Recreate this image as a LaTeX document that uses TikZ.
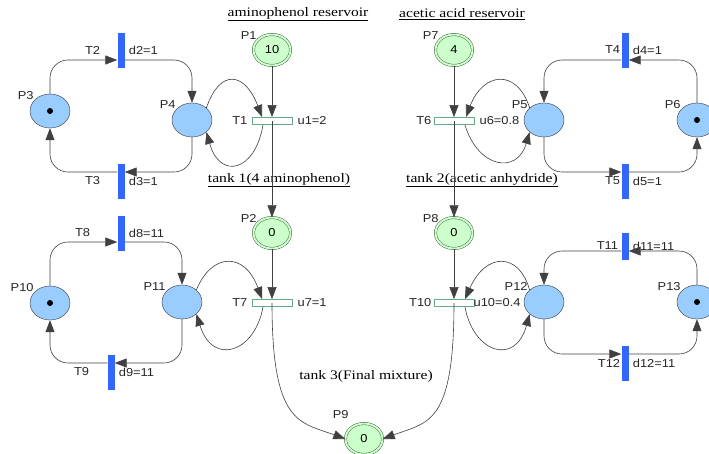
\documentclass[tikz,border=0pt]{standalone}
\usepackage{fontspec}
\setmainfont{Liberation Serif}
\newfontfamily\netfont[FakeStretch=1.12]{Liberation Sans}
\newfontfamily\notefont[FakeStretch=1.2]{Liberation Serif}
\usepackage{xcolor}
\usepackage{tikz}
\usetikzlibrary{shapes.geometric, arrows.meta, positioning}
\definecolor{placeblue}{HTML}{99CCFF}
\definecolor{tankgreen}{HTML}{CCFFCC}
\definecolor{tankline}{HTML}{2F4F2F}
\definecolor{barblue}{HTML}{3366FF}
\definecolor{transline}{HTML}{66AA88}
\tikzstyle{place}  = [ellipse, minimum width=40pt, minimum height=34pt, inner sep=0pt,
    draw=black!80, fill=placeblue, font=\netfont\fontsize{11.5}{13}\selectfont]
\tikzstyle{marked} = [path picture={\fill[black] (path picture bounding box.center) circle (3pt);}]
\tikzstyle{tank}   = [ellipse, minimum width=37pt, minimum height=31pt, inner sep=0pt,
    draw=tankline, double=tankgreen, double distance=2pt, fill=tankgreen,
    font=\netfont\fontsize{11.5}{13}\selectfont]
\tikzstyle{dtrans} = [rectangle, minimum width=7pt, minimum height=35pt, inner sep=0pt, fill=barblue]
\tikzstyle{ctrans} = [rectangle, minimum width=40pt, minimum height=7pt, inner sep=0pt,
    draw=transline, fill=white, line width=0.8pt]
\tikzstyle{lbl}    = [font=\netfont\fontsize{11.5}{13}\selectfont, inner sep=1pt, text=black!85]
\tikzstyle{plbl}   = [lbl, anchor=east, label distance=3pt]
\tikzstyle{note}   = [font=\notefont\fontsize{13}{15}\selectfont, inner sep=1pt]
\tikzstyle{arc}    = [draw=black!75, line width=0.6pt, rounded corners=18pt,
    -{Triangle[length=12pt,width=9pt]}]

\begin{document}
\begin{tikzpicture}[x=1pt, y=-1pt]
    \useasboundingbox[fill=white] (0,0) rectangle (709,453);

    % titles
    \node (aminores) [note] at (298,14)  {\underline{aminophenol reservoir}};
    \node (aceres)   [note] at (462,14)  {\underline{acetic acid reservoir}};
    \node (tank1)    [note] at (279,180) {\underline{tank 1(4 aminophenol)}};
    \node (tank2)    [note] at (482,180) {\underline{tank 2(acetic anhydride)}};
    \node (tank3)    [note] at (366,376) {tank 3(Final mixture)};

    % tanks
    \node (P1) [tank, label={[plbl]135:P1}] at (272,50)  {10};
    \node (P2) [tank, label={[plbl]135:P2}] at (272,233) {0};
    \node (P7) [tank, label={[plbl]135:P7}] at (454,50)  {4};
    \node (P8) [tank, label={[plbl]135:P8}] at (454,233) {0};
    \node (P9) [tank, label={[plbl,label distance=12pt]120:P9}] at (364,439) {0};

    % pumps
    \node (T1)  [ctrans, label={[lbl,label distance=3pt]left:T1},  label={[lbl,label distance=4pt]right:u1=2}]   at (272,121) {};
    \node (T6)  [ctrans, label={[lbl,label distance=1pt]left:T6},  label={[lbl,label distance=4pt]right:u6=0.8}] at (454,121) {};
    \node (T7)  [ctrans, label={[lbl,label distance=3pt]left:T7},  label={[lbl,label distance=4pt]right:u7=1}]   at (272,303) {};
    \node (T10) [ctrans, label={[lbl,label distance=1pt]left:T10}, label={[lbl,label distance=-2pt]right:u10=0.4}] at (454,303) {};

    % valve places
    \node (P3)  [place, marked, label={[plbl]135:P3}]  at (50,111)  {};
    \node (P4)  [place, label={[plbl]135:P4}]          at (192,120) {};
    \node (P5)  [place, label={[plbl]135:P5}]          at (544,120) {};
    \node (P6)  [place, marked, label={[plbl]135:P6}]  at (697,120) {};
    \node (P10) [place, marked, label={[plbl]135:P10}] at (50,303)  {};
    \node (P11) [place, label={[plbl]135:P11}]         at (182,302) {};
    \node (P12) [place, label={[plbl]135:P12}]         at (544,302) {};
    \node (P13) [place, marked, label={[plbl]135:P13}] at (697,302) {};

    % timed transitions
    \node (T2)  [dtrans, label={[lbl,label distance=16pt]left:T2}, label={[lbl,label distance=3pt]right:d2=1}]  at (121,50)  {};
    \node (T3)  [dtrans, label={[lbl,label distance=16pt]left:T3}, label={[lbl,label distance=3pt]right:d3=1}]  at (121,181) {};
    \node (T4)  [dtrans, label={[lbl,label distance=0pt]left:T4},  label={[lbl,label distance=3pt]right:d4=1}]  at (625,50)  {};
    \node (T5)  [dtrans, label={[lbl,label distance=0pt]left:T5},  label={[lbl,label distance=3pt]right:d5=1}]  at (625,181) {};
    \node (T8)  [dtrans, label={[lbl,label distance=26pt]left:T8}, label={[lbl,label distance=3pt]right:d8=11}] at (121,233) {};
    \node (T9)  [dtrans, label={[lbl,label distance=17pt]left:T9}, label={[lbl,label distance=3pt]right:d9=11}] at (111,372) {};
    \node (T11) [dtrans, minimum height=27pt, label={[lbl,label distance=2pt]left:T11}, label={[lbl,label distance=3pt]right:d11=11}] at (625,246) {};
    \node (T12) [dtrans, label={[lbl,label distance=0pt]left:T12}, label={[lbl,label distance=3pt]right:d12=11}] at (625,363) {};

    % main line
    \draw [arc] (P1) -- (T1);
    \draw [arc] (T1.center) -- (P2);
    \draw [arc] (P2) -- (T7);
    \draw [arc] (P7) -- (T6);
    \draw [arc] (T6.center) -- (P8);
    \draw [arc] (P8) -- (T10);
    \draw [arc] (T7.center) .. controls (272,425) and (300,422) .. (P9.west);
    \draw [arc] (T10.center) .. controls (454,425) and (428,422) .. (P9.east);

    % pump loops
    \draw [arc] (P4.40) .. controls (220,68) and (245,72) .. (262,117);
    \draw [arc] (263,125) .. controls (255,172) and (220,180) .. (P4.-40);
    \draw [arc] (P5.140) .. controls (517,68) and (483,72) .. (466,117);
    \draw [arc] (465,125) .. controls (478,168) and (517,175) .. (P5.-140);
    \draw [arc] (P11.40) .. controls (212,252) and (245,252) .. (262,299);
    \draw [arc] (263,307) .. controls (255,352) and (213,367) .. (P11.-40);
    \draw [arc] (P12.140) .. controls (519,252) and (486,252) .. (465,299);
    \draw [arc] (465,307) .. controls (473,352) and (515,367) .. (P12.-140);

    % valve loops
    \draw [arc] (P3.north) |- ([yshift=-10pt]T2.west);
    \draw [arc] ([yshift=-10pt]T2.east) -| (P4.north);
    \draw [arc] (P4.south) |- ([yshift=9pt]T3.east);
    \draw [arc] ([yshift=9pt]T3.west) -| (P3.south);
    \draw [arc] (P6.north) |- ([yshift=-10pt]T4.east);
    \draw [arc] ([yshift=-10pt]T4.west) -| (P5.north);
    \draw [arc] (P5.south) |- ([yshift=9pt]T5.west);
    \draw [arc] ([yshift=9pt]T5.east) -| (P6.south);
    \draw [arc] (P10.north) |- ([yshift=-9pt]T8.west);
    \draw [arc] ([yshift=-9pt]T8.east) -| (P11.north);
    \draw [arc] (P11.south) |- ([yshift=9pt]T9.east);
    \draw [arc] ([yshift=9pt]T9.west) -| (P10.south);
    \draw [arc] (P13.north) |- ([yshift=-5pt]T11.east);
    \draw [arc] ([yshift=-5pt]T11.west) -| (P12.north);
    \draw [arc] (P12.south) |- ([yshift=9pt]T12.west);
    \draw [arc] ([yshift=9pt]T12.east) -| (P13.south);
\end{tikzpicture}
\end{document}
